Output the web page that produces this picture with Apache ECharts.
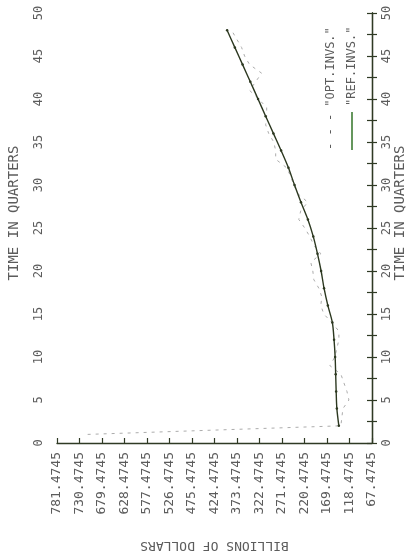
<!DOCTYPE html>
<html>
<head>
<meta charset="utf-8">
<script src="https://cdn.jsdelivr.net/npm/echarts@6/dist/echarts.min.js"></script>
<style>
  html, body { margin: 0; padding: 0; background: #ffffff; }
  #chart { width: 412px; height: 557px; }
</style>
</head>
<body>
<div id="chart"></div>
<script>
// billions of dollars, axis runs from 781.4745 (left) down to 67.4745 (right)
var xBase = 67.4745;
var xTop = 781.4745;
var xStep = 51;

// "REF.INVS." - solid line
var refQuarters = [2, 4, 6, 8, 10, 12, 14, 16, 18, 20, 22, 24,
                   26, 28, 30, 32, 34, 36, 38, 40, 42, 44, 46, 48];
var refValues = [142.6, 147.1, 148.7, 149.8, 151.0, 153.5, 157.3, 167.6, 176.2, 182.8, 191.0, 200.5,
                 212.8, 228.5, 243.1, 256.9, 273.5, 291.0, 308.5, 325.8, 343.3, 360.8, 378.4, 395.9];

// "OPT.INVS." - dashed line
var optQuarters = [1, 2, 3, 4, 5, 6, 7, 8, 9, 10, 11, 12, 13, 14, 15, 16,
                   17, 18, 19, 20, 21, 22, 23, 24, 25, 26, 27, 28, 29, 30, 31, 32,
                   33, 34, 35, 36, 37, 38, 39, 40, 41, 42, 43, 44, 45, 46, 47, 48];
var optValues = [712.0, 138.0, 135.7, 133.4, 119.8, 124.3, 131.2, 138.0, 163.0, 151.7, 147.1, 142.5, 142.5, 158.5, 176.7, 183.5,
                 181.2, 188.0, 199.4, 201.6, 206.2, 183.5, 199.4, 208.4, 219.9, 233.5, 229.0, 213.0, 235.8, 244.9, 251.7, 260.8,
                 285.8, 285.8, 290.3, 301.7, 308.5, 306.2, 306.2, 324.5, 344.9, 331.3, 317.6, 344.9, 356.3, 363.1, 374.5, 385.9];

var axisColor = '#2f3a24';
var textColor = '#5c5c5c';
var mono = '"DejaVu Sans Mono", "Liberation Mono", monospace';

function pairs(qs, vs) {
    return qs.map(function (q, i) { return [vs[i] - xBase, q]; });
}

function timeAxis(pos, labelMargin, nameGap) {
    return {
        type: 'value',
        position: pos,
        min: 0,
        max: 50,
        interval: 2.5,
        name: 'TIME IN QUARTERS',
        nameLocation: 'middle',
        nameRotate: 90,
        nameGap: nameGap,
        nameMoveOverlap: false,
        // left padding nudges the rotated title upward, as in the scan
        nameTextStyle: {color: textColor, fontFamily: mono, fontSize: 14, padding: [0, 0, 0, 30]},
        axisLine: {show: true, lineStyle: {color: axisColor, width: 1.3}},
        axisTick: {show: true, inside: true, length: 5, lineStyle: {color: axisColor, width: 1.2}},
        splitLine: {show: false},
        axisLabel: {
            rotate: 90,
            interval: 0,
            margin: labelMargin,
            color: textColor,
            fontFamily: mono,
            fontSize: 12,
            formatter: function (v) { return v % 5 === 0 ? String(v) : ''; }
        }
    };
}

var chart = echarts.init(document.getElementById('chart'), null, {renderer: 'canvas'});

var option = {
    animation: false,
    backgroundColor: '#ffffff',
    grid: {left: 57, right: 40, top: 13, bottom: 114, outerBoundsMode: 'none', containLabel: false},
    xAxis: {
        type: 'value',
        inverse: true,
        min: 0,
        max: xTop - xBase,
        interval: xStep,
        name: 'BILLIONS OF DOLLARS',
        nameLocation: 'middle',
        nameRotate: 180,
        nameGap: 96,
        nameMoveOverlap: false,
        nameTextStyle: {color: textColor, fontFamily: mono, fontSize: 13},
        axisLine: {show: true, onZero: false, lineStyle: {color: axisColor, width: 1.3}},
        axisTick: {show: true, inside: true, length: 5, lineStyle: {color: axisColor, width: 1.2}},
        splitLine: {show: false},
        axisLabel: {
            rotate: 90,
            margin: 9,
            showMinLabel: true,
            showMaxLabel: true,
            color: textColor,
            fontFamily: mono,
            fontSize: 13,
            formatter: function (v) { return (v + xBase).toFixed(4); }
        }
    },
    yAxis: [
        timeAxis('left', 12, 36),
        timeAxis('right', 9, 21)
    ],
    series: [
        {
            name: 'OPT.INVS.',
            type: 'line',
            data: pairs(optQuarters, optValues),
            showSymbol: false,
            lineStyle: {color: '#acacac', width: 1, type: [3, 5]},
            z: 2
        },
        {
            name: 'REF.INVS.',
            type: 'line',
            data: pairs(refQuarters, refValues),
            smooth: 0.3,
            symbol: 'circle',
            symbolSize: 2.5,
            itemStyle: {color: '#2c3820'},
            lineStyle: {color: '#2c3820', width: 1.4},
            z: 3
        }
    ],
    graphic: [
        {
            type: 'text',
            x: 331, y: 150,
            rotation: Math.PI / 2,
            style: {
                text: '- - - "OPT.INVS."',
                fill: textColor,
                font: '12px ' + mono,
                textAlign: 'left',
                textVerticalAlign: 'middle'
            }
        },
        {
            type: 'line',
            shape: {x1: 352, y1: 150, x2: 352, y2: 112},
            style: {stroke: '#3f7d35', lineWidth: 1.6}
        },
        {
            type: 'text',
            x: 352, y: 106,
            rotation: Math.PI / 2,
            style: {
                text: '"REF.INVS."',
                fill: textColor,
                font: '12px ' + mono,
                textAlign: 'left',
                textVerticalAlign: 'middle'
            }
        }
    ]
};

chart.setOption(option);
</script>
</body>
</html>
